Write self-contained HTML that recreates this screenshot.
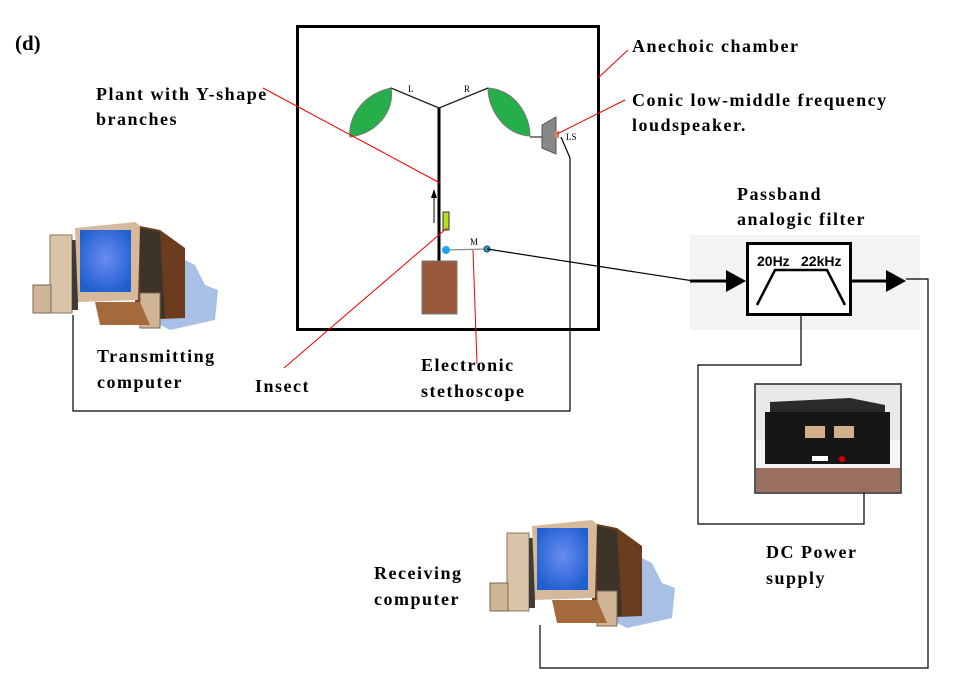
<!DOCTYPE html>
<html><head><style>body{margin:0;background:#fff}svg{display:block}text{font-family:"Liberation Serif",serif;font-size:17px;fill:#000}.l{font-size:18px;font-weight:bold;letter-spacing:1.5px}</style></head><body>
<svg width="957" height="699" viewBox="0 0 957 699" xmlns="http://www.w3.org/2000/svg">
<defs>
<radialGradient id="scr" cx="50%" cy="45%" r="60%"><stop offset="0" stop-color="#6a8cf0"/><stop offset="1" stop-color="#1f5fd0"/></radialGradient>
<g id="pc">
<polygon points="150,240 175,255 195,265 205,285 218,290 215,320 170,330 150,320" fill="#a9c0e6"/>
<polygon points="135,225 160,230 185,248 185,318 135,320" fill="#6b3d1e"/>
<polygon points="140,228 160,232 165,318 140,318" fill="#3e3328"/>
<rect x="50" y="235" width="22" height="78" fill="#d9c4a8" stroke="#8a7560"/>
<rect x="72" y="240" width="6" height="70" fill="#3e3a36"/>
<polygon points="75,228 135,222 140,226 138,300 78,302" fill="#d5b99a"/>
<rect x="80" y="230" width="51" height="62" fill="url(#scr)"/>
<rect x="33" y="285" width="18" height="28" fill="#cfb595" stroke="#7c6650"/>
<rect x="140" y="293" width="20" height="35" fill="#cfb595" stroke="#7c6650"/>
<polygon points="95,302 140,302 150,325 100,325" fill="#a56a3c"/>
</g>
</defs>
<text x="15" y="50" style="font-size:21px;font-weight:bold">(d)</text>
<rect x="297.5" y="26.5" width="301" height="303" fill="none" stroke="#000" stroke-width="3"/>
<path d="M391,88 C360,95 348,120 350,137 C378,133 395,110 391,88Z" fill="#25ae4a" stroke="#777"/>
<path d="M488,88 C515,90 530,115 530,136 C505,135 488,110 488,88Z" fill="#25ae4a" stroke="#777"/>
<polyline points="391,88 439,108 488,88" fill="none" stroke="#222" stroke-width="1.3"/>
<line x1="439" y1="108" x2="439" y2="262" stroke="#000" stroke-width="3"/>
<text x="408" y="92" style="font-size:9px">L</text>
<text x="464" y="92" style="font-size:9px">R</text>
<rect x="422" y="261" width="35" height="53" fill="#985a3a" stroke="#777"/>
<line x1="434" y1="193" x2="434" y2="223" stroke="#000"/>
<polygon points="431,198 434,189 437,198" fill="#000"/>
<rect x="443" y="212" width="6" height="18" fill="#b4e020" stroke="#333"/>
<line x1="530" y1="137" x2="545" y2="137" stroke="#000"/>
<polygon points="542,125 556,117 556,154 542,148" fill="#888" stroke="#555"/>
<rect x="555" y="131" width="4" height="7" fill="#d58b60"/>
<text x="566" y="140" style="font-size:9px">LS</text>
<line x1="446" y1="250" x2="487" y2="249" stroke="#888" stroke-width="1.3"/>
<circle cx="446" cy="250" r="4" fill="#1aa6e8"/>
<circle cx="487" cy="249" r="3" fill="#1aa6e8" stroke="#333"/>
<text x="470" y="245" style="font-size:9px">M</text>
<polyline points="487,249 700,282" fill="none" stroke="#000" stroke-width="1.2"/>
<g stroke="#e00" stroke-width="1" fill="none">
<line x1="263" y1="88" x2="440" y2="183"/>
<line x1="284" y1="368" x2="447" y2="228"/>
<line x1="477" y1="364" x2="473" y2="250"/>
<line x1="557" y1="134" x2="625" y2="100"/>
<line x1="598" y1="78" x2="628" y2="50"/>
</g>
<polyline points="73,315 73,411 570,411 570,158 561,137" fill="none" stroke="#000" stroke-width="1.2"/>
<use href="#pc"/>
<rect x="690" y="235" width="230" height="95" fill="#f3f3f3"/>
<line x1="690" y1="281" x2="730" y2="281" stroke="#000" stroke-width="3"/>
<polygon points="726,270 746,281 726,292" fill="#000"/>
<rect x="747.5" y="243.5" width="103" height="71" fill="#fff" stroke="#000" stroke-width="3"/>
<polyline points="757,305 775,270 827,270 845,305" fill="none" stroke="#000" stroke-width="2.5"/>
<text x="757" y="266" style="font-family:'Liberation Sans',sans-serif;font-size:14px;font-weight:bold">20Hz</text>
<text x="801" y="266" style="font-family:'Liberation Sans',sans-serif;font-size:14px;font-weight:bold">22kHz</text>
<line x1="851" y1="281" x2="890" y2="281" stroke="#000" stroke-width="3"/>
<polygon points="886,270 906,281 886,292" fill="#000"/>
<polyline points="906,279 928,279 928,668 540,668 540,625" fill="none" stroke="#000" stroke-width="1.2"/>
<polyline points="801,315 801,365 698,365 698,524 864,524 864,493" fill="none" stroke="#000" stroke-width="1.2"/>
<rect x="755" y="384" width="146" height="109" fill="#e8e8e8" stroke="#222" stroke-width="1.5"/>
<rect x="756" y="465" width="144" height="27" fill="#9a7060"/>
<rect x="756" y="440" width="144" height="28" fill="#f4f4f4"/>
<polygon points="770,402 850,398 885,405 885,433 770,433" fill="#2a2a2a"/>
<rect x="765" y="412" width="125" height="52" fill="#161616"/>
<rect x="805" y="426" width="20" height="12" fill="#d4b08a"/>
<rect x="834" y="426" width="20" height="12" fill="#d4b08a"/>
<rect x="812" y="456" width="16" height="5" fill="#fff"/>
<circle cx="842" cy="459" r="3" fill="#d00"/>
<use href="#pc" transform="translate(457,298)"/>
<text class="l" x="96" y="100">Plant with Y-shape</text>
<text class="l" x="96" y="125">branches</text>
<text class="l" x="632" y="52">Anechoic chamber</text>
<text class="l" x="632" y="106">Conic low-middle frequency</text>
<text class="l" x="632" y="131">loudspeaker.</text>
<text class="l" x="737" y="200">Passband</text>
<text class="l" x="737" y="225">analogic filter</text>
<text class="l" x="97" y="362">Transmitting</text>
<text class="l" x="97" y="388">computer</text>
<text class="l" x="255" y="392">Insect</text>
<text class="l" x="421" y="371">Electronic</text>
<text class="l" x="421" y="397">stethoscope</text>
<text class="l" x="766" y="558">DC Power</text>
<text class="l" x="766" y="584">supply</text>
<text class="l" x="374" y="579">Receiving</text>
<text class="l" x="374" y="605">computer</text>
</svg>
</body></html>
